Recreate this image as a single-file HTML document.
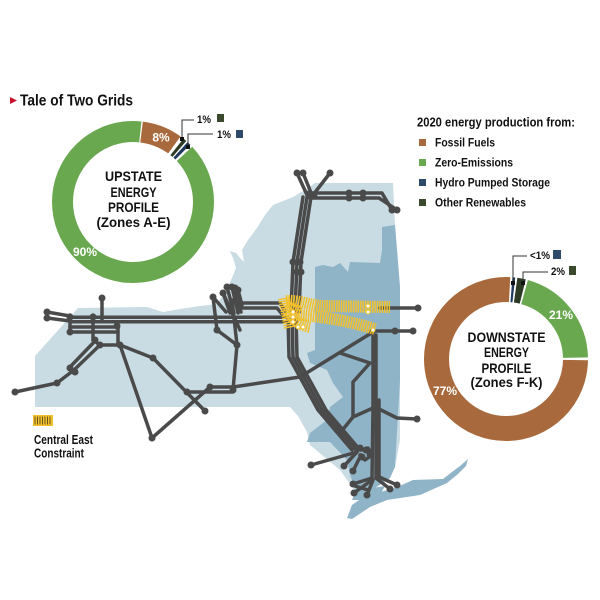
<!DOCTYPE html>
<html><head><meta charset="utf-8">
<style>
html,body{margin:0;padding:0;background:#fff;}
svg{display:block;}
text{font-family:"Liberation Sans",sans-serif;font-weight:bold;}
</style></head>
<body>
<svg width="600" height="600" viewBox="0 0 600 600" xmlns="http://www.w3.org/2000/svg">
<rect width="600" height="600" fill="#fff"/>

<!-- MAP: light region -->
<polygon fill="#c9dce4" points="78,308 147,307 163,312 180,309 200,306 217,304 225,292 232,278 236,268 233,258 230,251 236,253 240,258 244,262 242,250 248,240 257,228 265,215 273,205 293,197 305,190 315,183 393,183 395,225 400,287 400,440 395,467 380,478 360,498 340,470 310,445 307,432 298,416 290,407 35,407 35,356"/>
<!-- darker region -->
<polygon fill="#8fb3c7" points="382,227 395,225 400,287 400,380 395,467 390,478 375,488 362,497 352,500 356,490 350,475 347,460 330,442 307,442 310,433 327,420 330,407 343,397 333,383 327,370 310,363 307,353 315,350 315,267 323,265 333,267 340,263 348,272 350,262 380,263 382,250"/>
<!-- Long Island / NYC -->
<polygon fill="#8fb3c7" points="347,518 352,505 362,498 377,493 395,488 413,480 443,479 452,472 460,466 468,459 466,466 458,474 447,483 420,495 387,500 370,507 352,519"/>
<polygon fill="#8fb3c7" points="352,500 372,488 385,486 380,495 362,500"/>

<!-- transmission lines -->
<g stroke="#4a4a4a" stroke-width="3.5" fill="none" stroke-linecap="round" stroke-linejoin="round">
<polyline points="47,312 70,316"/>
<polyline points="47,318 70,321"/>
<line x1="70" y1="317.3" x2="286" y2="317.3"/>
<line x1="70" y1="321.8" x2="286" y2="321.8"/>
<line x1="70" y1="327" x2="118" y2="327"/>
<line x1="70" y1="332" x2="118" y2="332"/>
<line x1="70" y1="315" x2="70" y2="333"/>
<line x1="93" y1="315" x2="93" y2="340"/>
<line x1="102" y1="298" x2="102" y2="320"/>
<line x1="118" y1="327" x2="118" y2="345"/>
<polyline points="93,340 100,345 120,345"/>
<polyline points="100,345 74,370 57,383 15,392"/>
<polyline points="96,340 70,367"/>
<polyline points="120,345 153,358 205,411"/>
<polyline points="120,345 152,438 210,387"/>
<polyline points="187,392 233,392"/>
<polyline points="210,387 233,387 300,377 373,332"/>
<polyline points="213,297 217,330 237,345"/>
<polyline points="232,300 237,345 233,390"/>
<polyline points="223,293 230,313"/>
<polyline points="227,287 234,313"/>
<polyline points="232,287 238,313"/>
<polyline points="235,288 241,312"/>
<polyline points="238,290 242,305"/>
<polyline points="213,297 226,312"/>
<polyline points="223,293 240,330"/>
<polyline points="240,303 280,303 285,311"/>
<polyline points="240,308 277,308 282,314"/>
<polyline points="297,173 307,195"/>
<polyline points="303,173 312,195"/>
<polyline points="330,173 313,195"/>
<polyline points="310,193 382,193 392,210"/>
<polyline points="310,198 379,198 397,210"/>
<polyline points="303,197 293,262 291,312"/>
<polyline points="307,197 297,262 295,312"/>
<polyline points="311,197 301,262 299,312"/>
<polyline points="288,318 289,357 318,410 352,450"/>
<polyline points="292,318 293,357 322,410 356,450"/>
<polyline points="296,318 297,357 326,410 360,450"/>
<polyline points="373,332 373,407 372,478"/>
<polyline points="376,335 376,478"/>
<polyline points="379,400 379,476"/>
<polyline points="375,407 397,418 417,419"/>
<polyline points="340,353 370,363 353,382 353,417 340,433"/>
<polyline points="353,417 373,408"/>
<polyline points="357,452 311,465"/>
<polyline points="357,452 344,466"/>
<polyline points="361,455 353,471"/>
<polyline points="372,478 353,484"/>
<polyline points="372,480 354,493"/>
<polyline points="373,480 367,495"/>
<polyline points="376,478 390,489"/>
<polyline points="377,476 397,485"/>
<polyline points="355,486 368,490"/>
<polyline points="362,450 368,448 372,455 365,460 360,455"/>
<polyline points="380,308 418,308"/>
<polyline points="370,331 413,331"/>
</g>

<!-- constraint hatching -->
<g fill="none" stroke="#f3c12c" stroke-width="12" stroke-dasharray="1.5 0.9">
<path d="M286,301 C300,300 312,306 323,306 L390,307"/>
<path d="M296,315 C320,316 345,320 375,329"/>
<path d="M287,312 C295,320 300,325 310,327"/>
<path d="M286,305 L300,312"/>
<path d="M284,298 L290,328"/>
</g>
<g fill="#fff" stroke="#f3c12c" stroke-width="1">
<circle cx="293" cy="312" r="2"/><circle cx="293" cy="317" r="2"/><circle cx="293" cy="322" r="2"/>
<circle cx="298" cy="327" r="2"/><circle cx="303" cy="327" r="2"/>
<circle cx="368" cy="306" r="2"/><circle cx="368" cy="312" r="2"/><circle cx="373" cy="330" r="2"/>
</g>

<!-- nodes -->
<g fill="#4a4a4a">
<circle cx="47" cy="312" r="3.5"/><circle cx="47" cy="318" r="3.5"/><circle cx="70" cy="317" r="3.5"/><circle cx="70" cy="332" r="3.5"/>
<circle cx="93" cy="317" r="3.5"/><circle cx="95" cy="340" r="3.5"/><circle cx="100" cy="345" r="3.5"/><circle cx="102" cy="298" r="3.5"/>
<circle cx="117" cy="326" r="3.5"/><circle cx="120" cy="345" r="3.5"/><circle cx="153" cy="358" r="3.5"/><circle cx="205" cy="411" r="3.5"/>
<circle cx="152" cy="438" r="3.5"/><circle cx="210" cy="387" r="3.5"/><circle cx="187" cy="392" r="3.5"/><circle cx="233" cy="390" r="3.5"/>
<circle cx="70" cy="368" r="3.5"/><circle cx="75" cy="372" r="3.5"/><circle cx="57" cy="383" r="3.5"/><circle cx="15" cy="392" r="3.5"/>
<circle cx="213" cy="297" r="3.5"/><circle cx="217" cy="330" r="3.5"/><circle cx="237" cy="345" r="3.5"/>
<circle cx="223" cy="293" r="3.5"/><circle cx="227" cy="287" r="3.5"/><circle cx="232" cy="287" r="3.5"/><circle cx="235" cy="288" r="3.5"/><circle cx="238" cy="290" r="3.5"/>
<circle cx="297" cy="173" r="3.5"/><circle cx="303" cy="173" r="3.5"/><circle cx="330" cy="173" r="3.5"/>
<circle cx="309" cy="194" r="3.5"/><circle cx="314" cy="196" r="3.5"/>
<circle cx="349" cy="193" r="3.5"/><circle cx="363" cy="193" r="3.5"/><circle cx="349" cy="198" r="3.5"/><circle cx="363" cy="198" r="3.5"/>
<circle cx="392" cy="210" r="3.5"/><circle cx="397" cy="210" r="3.5"/>
<circle cx="293" cy="262" r="3.5"/><circle cx="300" cy="262" r="3.5"/><circle cx="297" cy="272" r="3.5"/><circle cx="301" cy="272" r="3.5"/>
<circle cx="418" cy="308" r="3.5"/><circle cx="395" cy="331" r="3.5"/><circle cx="413" cy="331" r="3.5"/><circle cx="417" cy="419" r="3.5"/>
<circle cx="311" cy="465" r="3.5"/><circle cx="344" cy="466" r="3.5"/><circle cx="353" cy="471" r="3.5"/>
<circle cx="353" cy="484" r="3.5"/><circle cx="354" cy="493" r="3.5"/><circle cx="367" cy="495" r="3.5"/><circle cx="390" cy="489" r="3.5"/><circle cx="397" cy="485" r="3.5"/>
<circle cx="360" cy="448" r="3.5"/><circle cx="366" cy="450" r="3.5"/><circle cx="362" cy="457" r="3.5"/><circle cx="370" cy="454" r="3.5"/>
</g>

<!-- UPSTATE donut -->
<g fill="none" stroke-width="21" transform="rotate(-90 133 202)">
<circle cx="133" cy="202" r="70.5" pathLength="360" stroke="#a86a3c" stroke-dasharray="29 331" stroke-dashoffset="-7"/>
<circle cx="133" cy="202" r="70.5" pathLength="360" stroke="#2d3b24" stroke-dasharray="2.6 357.4" stroke-dashoffset="-38.6"/>
<circle cx="133" cy="202" r="70.5" pathLength="360" stroke="#1f3a5c" stroke-dasharray="2.6 357.4" stroke-dashoffset="-42.4"/>
<circle cx="133" cy="202" r="70.5" pathLength="360" stroke="#6aa850" stroke-dasharray="319 41" stroke-dashoffset="-47"/>
</g>
<text x="161" y="141.5" font-size="12" fill="#fff" text-anchor="middle">8%</text>
<text x="85" y="256" font-size="12" fill="#fff" text-anchor="middle">90%</text>
<g font-size="14" fill="#111" text-anchor="middle">
<text x="133.5" y="181" textLength="57" lengthAdjust="spacingAndGlyphs">UPSTATE</text>
<text x="133.5" y="197" textLength="46" lengthAdjust="spacingAndGlyphs">ENERGY</text>
<text x="133.5" y="212" textLength="51" lengthAdjust="spacingAndGlyphs">PROFILE</text>
<text x="133.5" y="227" textLength="74" lengthAdjust="spacingAndGlyphs">(Zones A-E)</text>
</g>
<g stroke="#333" stroke-width="1" fill="none">
<polyline points="182,139 182,120 194,120"/>
<polyline points="188,147 188,134 213,134"/>
</g>
<rect x="180" y="137" width="4" height="4" fill="#111"/>
<rect x="186" y="145" width="4" height="4" fill="#111"/>
<text x="197" y="123" font-size="11" fill="#111" textLength="14" lengthAdjust="spacingAndGlyphs">1%</text>
<rect x="217" y="114" width="7" height="8" fill="#3b4a2c"/>
<text x="217" y="138" font-size="11" fill="#111" textLength="14" lengthAdjust="spacingAndGlyphs">1%</text>
<rect x="236" y="130" width="7" height="8" fill="#2e4a6b"/>

<!-- DOWNSTATE donut -->
<g fill="none" stroke-width="25" transform="rotate(-90 506 359)">
<circle cx="506" cy="359" r="69.5" pathLength="360" stroke="#a86a3c" stroke-dasharray="272 88" stroke-dashoffset="-91"/>
<circle cx="506" cy="359" r="69.5" pathLength="360" stroke="#1f3a5c" stroke-dasharray="2 358" stroke-dashoffset="-4.5"/>
<circle cx="506" cy="359" r="69.5" pathLength="360" stroke="#2d3b24" stroke-dasharray="6 354" stroke-dashoffset="-8"/>
<circle cx="506" cy="359" r="69.5" pathLength="360" stroke="#6aa850" stroke-dasharray="73.5 286.5" stroke-dashoffset="-15.5"/>
</g>
<text x="561" y="319" font-size="12" fill="#fff" text-anchor="middle">21%</text>
<text x="445" y="395" font-size="12" fill="#fff" text-anchor="middle">77%</text>
<g font-size="14" fill="#111" text-anchor="middle">
<text x="506.5" y="342" textLength="78" lengthAdjust="spacingAndGlyphs">DOWNSTATE</text>
<text x="506.5" y="357" textLength="45" lengthAdjust="spacingAndGlyphs">ENERGY</text>
<text x="506.5" y="373" textLength="50" lengthAdjust="spacingAndGlyphs">PROFILE</text>
<text x="506.5" y="387" textLength="72" lengthAdjust="spacingAndGlyphs">(Zones F-K)</text>
</g>
<g stroke="#333" stroke-width="1" fill="none">
<polyline points="513,283 513,256 527,256"/>
<polyline points="523,283 523,272 548,272"/>
</g>
<rect x="511" y="281" width="4" height="4" fill="#111"/>
<rect x="521" y="281" width="4" height="4" fill="#111"/>
<text x="530" y="259" font-size="11" fill="#111" textLength="20" lengthAdjust="spacingAndGlyphs">&lt;1%</text>
<rect x="553" y="250" width="8" height="9" fill="#2e4a6b"/>
<text x="551" y="275" font-size="11" fill="#111" textLength="14" lengthAdjust="spacingAndGlyphs">2%</text>
<rect x="569" y="266" width="7" height="9" fill="#3b4a2c"/>

<!-- Title -->
<polygon points="10,97 17,100.5 10,104" fill="#c8102e"/>
<text x="20" y="105.5" font-size="16" fill="#111" textLength="113" lengthAdjust="spacingAndGlyphs">Tale of Two Grids</text>

<!-- Legend -->
<text x="417" y="126.5" font-size="12.5" fill="#111" textLength="158" lengthAdjust="spacingAndGlyphs">2020 energy production from:</text>
<rect x="419" y="139" width="7" height="7" fill="#a86a3c"/>
<rect x="419" y="159" width="7" height="7" fill="#6aa850"/>
<rect x="419" y="179" width="7" height="7" fill="#2e4a6b"/>
<rect x="419" y="199" width="7" height="7" fill="#3b4a2c"/>
<g font-size="12" fill="#111">
<text x="435" y="146.5" textLength="60" lengthAdjust="spacingAndGlyphs">Fossil Fuels</text>
<text x="435" y="166.5" textLength="78" lengthAdjust="spacingAndGlyphs">Zero-Emissions</text>
<text x="435" y="186.5" textLength="115" lengthAdjust="spacingAndGlyphs">Hydro Pumped Storage</text>
<text x="435" y="206.5" textLength="91" lengthAdjust="spacingAndGlyphs">Other Renewables</text>
</g>

<!-- Central East legend -->
<rect x="33" y="415" width="20" height="11" fill="#f3c12c"/>
<g stroke="#5a4a20" stroke-width="0.9">
<line x1="35" y1="416.5" x2="35" y2="424.5"/><line x1="37.5" y1="416.5" x2="37.5" y2="424.5"/>
<line x1="40" y1="416.5" x2="40" y2="424.5"/><line x1="42.5" y1="416.5" x2="42.5" y2="424.5"/>
<line x1="45" y1="416.5" x2="45" y2="424.5"/><line x1="47.5" y1="416.5" x2="47.5" y2="424.5"/>
<line x1="50" y1="416.5" x2="50" y2="424.5"/>
</g>
<text x="34" y="444" font-size="12.5" fill="#111" textLength="59" lengthAdjust="spacingAndGlyphs">Central East</text>
<text x="34" y="457.5" font-size="12.5" fill="#111" textLength="50" lengthAdjust="spacingAndGlyphs">Constraint</text>
</svg>
</body></html>
